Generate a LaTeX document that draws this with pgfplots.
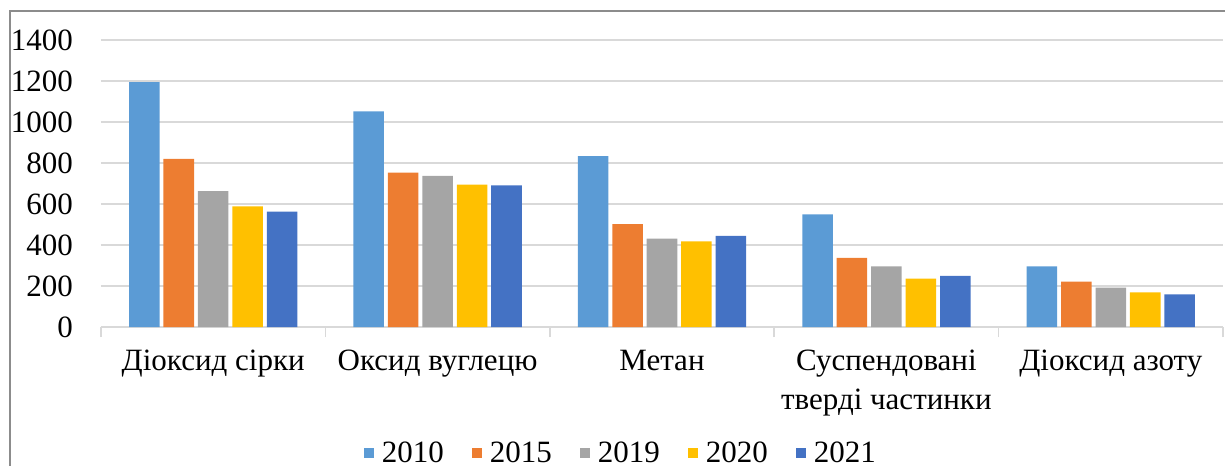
\documentclass[border=0pt]{standalone}
\usepackage{pgfplots}
\pgfplotsset{compat=1.18}
\usepackage{fontspec}
\setmainfont{Liberation Serif}

\definecolor{c2010}{HTML}{5B9BD5}
\definecolor{c2015}{HTML}{ED7D31}
\definecolor{c2019}{HTML}{A5A5A5}
\definecolor{c2020}{HTML}{FFC000}
\definecolor{c2021}{HTML}{4472C4}
\definecolor{gridc}{HTML}{D9D9D9}
\definecolor{framec}{HTML}{8C8C8C}

\newcommand{\chartfont}{\fontsize{15.5}{19.5}\selectfont}

\pgfplotsset{
  sq/.style={legend image code/.code={\fill[##1] (0pt,-2.5pt) rectangle (5pt,2.5pt); \path (7pt,0pt);}},
}

\begin{document}
\begin{tikzpicture}
\useasboundingbox (0,0) rectangle (612.5pt,-233pt);
\draw[framec, line width=0.75pt] (612.5pt,-5.5pt) -- (5pt,-5.5pt) -- (5pt,-233pt);
\begin{axis}[
  at={(50.5pt,-163.5pt)}, anchor=south west,
  width=561pt, height=143.5pt, scale only axis,
  xmin=-0.5, xmax=4.5, ymin=0, ymax=1400,
  axis x line*=bottom, axis y line*=left,
  axis line style={-},
  y axis line style={draw=none},
  x axis line style={draw=gridc, line width=0.75pt},
  ytick={0,200,...,1400},
  ymajorgrids, grid style={gridc, line width=0.75pt},
  y tick style={draw=none},
  yticklabel style={font=\chartfont, xshift=-5.5pt},
  /pgf/number format/assume math mode=true,
  /pgf/number format/set thousands separator={},
  xtick={-0.5,0.5,...,4.5},
  xticklabels={,,,,,},
  tick align=outside,
  x tick style={draw=gridc, line width=0.75pt},
  major tick length=5pt,
  extra x ticks={0,1,2,3,4},
  extra x tick labels={Діоксид сірки, Оксид вуглецю, Метан, {Суспендовані\\тверді частинки}, Діоксид азоту},
  extra x tick style={major tick length=0pt, tick style={draw=none},
    xticklabel style={align=center, font=\chartfont, yshift=-8pt}},
  legend style={at={(0.4643,-0.4400)}, anchor=center, draw=none, fill=none,
    font=\chartfont, legend columns=-1,
    /tikz/every even column/.append style={column sep=12pt}},
  legend cell align=left,
]
\addplot[ybar, bar width=0.136, bar shift=-0.307, fill=c2010, draw=none, sq]
  coordinates {(0,1195)(1,1052)(2,833)(3,550)(4,296)};
\addlegendentry{2010}
\addplot[ybar, bar width=0.136, bar shift=-0.1535, fill=c2015, draw=none, sq]
  coordinates {(0,820)(1,753)(2,502)(3,337)(4,221)};
\addlegendentry{2015}
\addplot[ybar, bar width=0.136, bar shift=0, fill=c2019, draw=none, sq]
  coordinates {(0,663)(1,737)(2,431)(3,296)(4,192)};
\addlegendentry{2019}
\addplot[ybar, bar width=0.136, bar shift=0.1535, fill=c2020, draw=none, sq]
  coordinates {(0,589)(1,694)(2,418)(3,236)(4,169)};
\addlegendentry{2020}
\addplot[ybar, bar width=0.136, bar shift=0.307, fill=c2021, draw=none, sq]
  coordinates {(0,563)(1,691)(2,444)(3,249)(4,159)};
\addlegendentry{2021}
\end{axis}
\end{tikzpicture}
\end{document}
